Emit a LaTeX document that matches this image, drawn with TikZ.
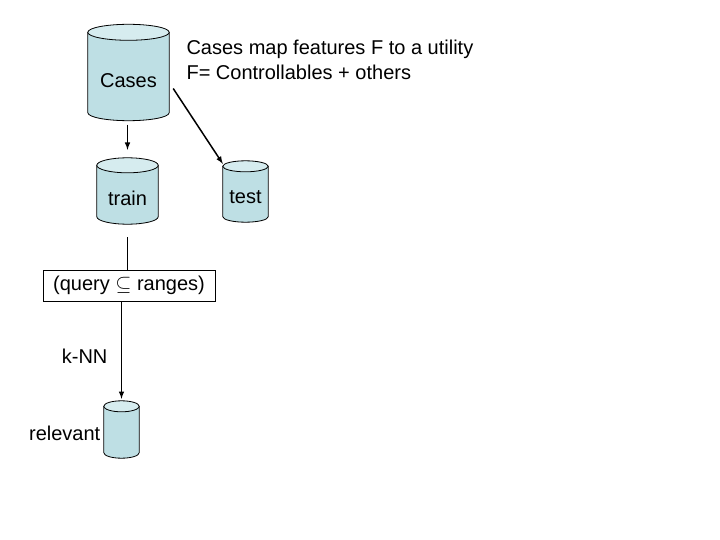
\documentclass[tikz,border=0pt]{standalone}
\usepackage{fontspec}
\setmainfont{Liberation Sans}
\usetikzlibrary{arrows,positioning,backgrounds,calc}
\definecolor{dbbody}{RGB}{190,223,228}
\definecolor{dbtop}{RGB}{214,236,239}

% cylinder drawn behind a named node (node = body under the lid)
\newcommand{\drawdb}[2]{%
  \begin{scope}[on background layer]
    \draw[line width=0.8pt, fill=dbbody] let \p1=(#1.north west), \p2=(#1.south east), \n1={(\x2-\x1)/2} in
      (\x1,\y1+#2) -- (\x1,\y2+#2) arc[start angle=180, end angle=360, x radius=\n1, y radius=#2] -- (\x2,\y1+#2) -- cycle;
    \draw[line width=0.8pt, fill=dbtop] let \p1=(#1.north west), \p2=(#1.south east), \p3=(#1.north), \n1={(\x2-\x1)/2} in
      (\x3,\y3+#2) ellipse[x radius=\n1, y radius=#2];
  \end{scope}}

\begin{document}
\begin{tikzpicture}[x=1pt,y=-1pt,>=latex,font=\fontsize{20}{25}\selectfont]
            \tikzset{db/.style={inner sep=0pt},
              conn/.style={line width=1.5pt}}
            \useasboundingbox (0,0) rectangle (720,540);
            \node[db, minimum width=81pt, minimum height=80pt] (cases) at (128.5,80.5) {Cases}; % base
            \node[db, minimum width=61pt, minimum height=51pt] (train) at (127.5,198.5) {train};
            \node[db, minimum width=45pt, minimum height=50pt] (test) at (245.5,197) {test};
            \node[db, minimum width=35pt, minimum height=46pt] (relevant) at (121.5,435) {};
            \drawdb{cases}{8pt}
            \drawdb{train}{7.5pt}
            \drawdb{test}{5.5pt}
            \drawdb{relevant}{5.5pt}
            \node[left=0pt of relevant, yshift=2pt] (relname) {relevant};
            \node[draw, line width=0.8pt, minimum width=172pt, minimum height=31pt] (filter) at (129,285.5) {(query $\subseteq$ ranges)};
            \node[anchor=west, align=left] (note) at (183,59.5) {Cases map features F to a utility\\F= Controllables + others};
            \draw[conn,->,shorten <=4pt,shorten >=23pt] (train.north |- cases.south) -- (train.north);
            \draw[conn,->] ([shift={(4pt,-8pt)}]cases.east) -- ([yshift=8pt]test.north west);
            \draw[conn,shorten <=13pt] (train.south) -- (train.south |- filter.north);
            \draw[conn,->,shorten >=13pt] (relevant.north |- filter.south) -- node[midway,left=10pt] (knn) {k-NN} (relevant.north);
\end{tikzpicture}
\end{document}
